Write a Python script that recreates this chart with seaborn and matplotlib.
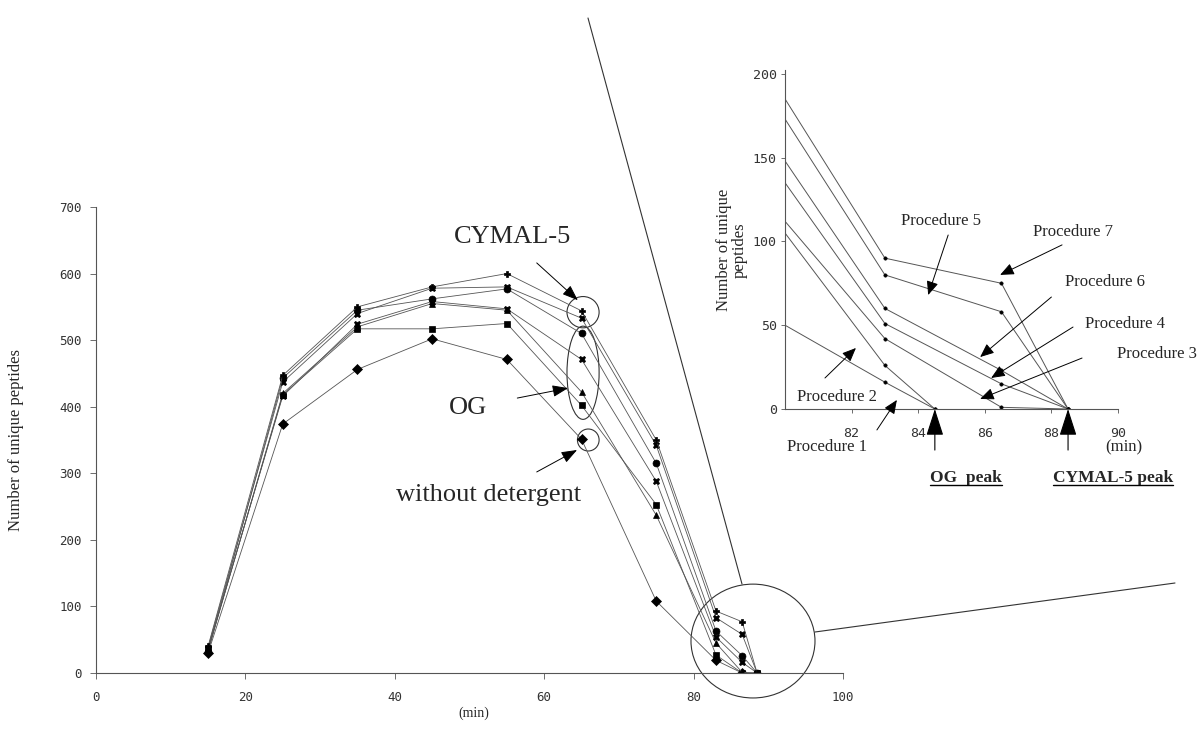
import numpy as np
import pandas as pd
import matplotlib
matplotlib.use("Agg")
import matplotlib.pyplot as plt
from matplotlib.patches import Ellipse
from matplotlib.lines import Line2D
import seaborn as sns

# fraction retention times (min), main plot
times = [15, 25, 35, 45, 55, 65, 75, 83, 86.5, 88.5]

# number of unique peptides for each procedure
proc1 = [30, 374, 456, 502, 471, 351, 108, 19, 0, np.nan]
proc2 = [35, 418, 517, 517, 525, 402, 253, 27, 0, 0]
proc3 = [33, 420, 520, 555, 545, 422, 237, 45, 1, 0]
proc4 = [36, 416, 524, 558, 547, 471, 288, 54, 16, 0]
proc5 = [38, 437, 540, 578, 580, 533, 342, 83, 58, 0]
proc6 = [32, 443, 545, 562, 577, 510, 315, 63, 26, 0]
proc7 = [40, 447, 550, 580, 600, 544, 350, 93, 77, 0]

names = ["Procedure 1", "Procedure 2", "Procedure 3", "Procedure 4",
         "Procedure 5", "Procedure 6", "Procedure 7"]
markers = ["D", "s", "^", "X", "X", "o", "P"]

# zoomed inset (80-90 min)
inset_og_times = [80, 83, 84.5]
inset_cymal_times = [80, 83, 86.5, 88.5]
inset1 = [50, 16, 0]
inset2 = [105, 26, 0]
inset3 = [112, 42, 1, 0]
inset4 = [135, 51, 15, 0]
inset5 = [173, 80, 58, 0]
inset6 = [148, 60, 23, 0]
inset7 = [185, 90, 75, 0]

main_df = pd.DataFrame({
    "time": times * 7,
    "peptides": proc1 + proc2 + proc3 + proc4 + proc5 + proc6 + proc7,
    "procedure": [n for n in names for _ in times],
})

inset_series = [inset1, inset2, inset3, inset4, inset5, inset6, inset7]
inset_times = [inset_og_times, inset_og_times] + [inset_cymal_times] * 5
inset_df = pd.DataFrame({
    "time": [t for ts in inset_times for t in ts],
    "peptides": [v for s in inset_series for v in s],
    "procedure": [n for n, s in zip(names, inset_series) for _ in s],
})

sns.set_theme(style="white")
plt.rcParams["font.family"] = ["Liberation Serif", "DejaVu Serif"]

W, H = 1199, 743
fig = plt.figure(figsize=(W / 100, H / 100), dpi=100)
ax = fig.add_axes([96 / W, 1 - 673 / H, 747 / W, 466 / H])

line_col = "#555555"
for name, mk in zip(names, markers):
    sns.lineplot(data=main_df[main_df["procedure"] == name], x="time", y="peptides",
                 ax=ax, color=line_col, lw=0.6, marker=mk, markersize=5,
                 markerfacecolor="black", markeredgecolor="black", markeredgewidth=0.5)

ax.set_xlim(0, 100)
ax.set_ylim(0, 700)
ax.set_xticks(range(0, 101, 20))
ax.set_yticks(range(0, 701, 100))
for s in ["top", "right"]:
    ax.spines[s].set_visible(False)
for s in ["left", "bottom"]:
    ax.spines[s].set_color(line_col)
    ax.spines[s].set_linewidth(0.8)
ax.tick_params(direction="out", length=4, width=0.6, color=line_col, labelsize=9,
               labelcolor="#333333", left=True, bottom=True)
ax.tick_params(axis="x", pad=9)
ax.tick_params(axis="y", pad=6)
for lab in ax.get_xticklabels() + ax.get_yticklabels():
    lab.set_fontfamily("DejaVu Sans Mono")
ax.set_xlabel("(min)", fontsize=10)
ax.xaxis.set_label_coords(0.506, -0.072)
ax.set_ylabel("Number of unique peptides", fontsize=12)
ax.yaxis.set_label_coords(-0.096, 0.5)

# callouts on main plot
ell_kw = dict(fill=False, ec="#333333", lw=0.8, clip_on=False)
ax.add_patch(Ellipse((65.2, 542), 4.3, 47, **ell_kw))
ax.add_patch(Ellipse((65.2, 451), 4.3, 140, **ell_kw))
ax.add_patch(Ellipse((65.9, 350), 2.9, 33, **ell_kw))
ax.add_patch(Ellipse((87.95, 48), 16.6, 171, **ell_kw))

arr = dict(arrowstyle="-|>,head_length=0.8,head_width=0.3", color="black", lw=0.7,
           shrinkA=0, shrinkB=0)
ax.text(55.7, 655, "CYMAL-5", fontsize=19, ha="center", va="center")
ax.annotate("", xy=(64.5, 560), xytext=(59.0, 616), arrowprops=arr)
ax.text(49.8, 398, "OG", fontsize=19, ha="center", va="center")
ax.annotate("", xy=(63.2, 428), xytext=(56.4, 413), arrowprops=arr)
ax.text(52.5, 267, "without detergent", fontsize=19, ha="center", va="center")
ax.annotate("", xy=(64.4, 335), xytext=(59.0, 302), arrowprops=arr)

# zoom connector lines
fig.add_artist(Line2D([588 / W, 742 / W], [1 - 18 / H, 1 - 584 / H],
                      transform=fig.transFigure, color="#333333", lw=0.8))
fig.add_artist(Line2D([815 / W, 1175 / W], [1 - 632 / H, 1 - 583 / H],
                      transform=fig.transFigure, color="#333333", lw=0.8))

# inset
axi = fig.add_axes([785 / W, 1 - 409 / H, 333 / W, 338.6 / H])
axi.patch.set_alpha(0)
for name in names:
    sns.lineplot(data=inset_df[inset_df["procedure"] == name], x="time", y="peptides",
                 ax=axi, color=line_col, lw=0.7, marker="o", markersize=2.5,
                 markevery=slice(1, None), markerfacecolor="black",
                 markeredgecolor="black", markeredgewidth=0.3)
axi.set_xlim(80, 90)
axi.set_ylim(0, 202)
axi.set_xticks([82, 84, 86, 88, 90])
axi.set_yticks([0, 50, 100, 150, 200])
for s in ["top", "right"]:
    axi.spines[s].set_visible(False)
for s in ["left", "bottom"]:
    axi.spines[s].set_color(line_col)
    axi.spines[s].set_linewidth(0.8)
axi.tick_params(direction="out", length=3, width=0.6, color=line_col, labelsize=9.5,
                labelcolor="#333333", left=True, bottom=True)
axi.tick_params(axis="x", pad=10)
axi.tick_params(axis="y", pad=3)
for lab in axi.get_xticklabels() + axi.get_yticklabels():
    lab.set_fontfamily("DejaVu Sans Mono")
axi.set_xlabel("")
axi.set_ylabel("Number of unique\npeptides", fontsize=12, linespacing=1.0)
axi.yaxis.set_label_coords(-0.111, 0.47)

arr_i = dict(arrowstyle="-|>,head_length=0.7,head_width=0.3", color="black", lw=0.7,
             shrinkA=0, shrinkB=0)
labels_inset = [
    ("Procedure 5", (84.68, 112.2), (84.9, 103.8), (84.3, 68)),
    ("Procedure 7", (88.65, 105.6), (88.32, 97.9), (86.46, 80)),
    ("Procedure 6", (89.6, 75.8), (88.0, 66.8), (85.86, 31)),
    ("Procedure 4", (90.2, 50.7), (88.65, 48.9), (86.19, 18.5)),
    ("Procedure 3", (91.17, 32.8), (88.92, 30.4), (85.86, 6)),
    ("Procedure 2", (81.56, 7.2), (81.2, 18.5), (82.13, 36.4)),
    ("Procedure 1", (81.26, -22.7), (82.76, -12.5), (83.36, 5.4)),
]
for txt, pos, start, end in labels_inset:
    axi.text(pos[0], pos[1], txt, fontsize=12, ha="center", va="center", clip_on=False)
    axi.annotate("", xy=end, xytext=start, arrowprops=arr_i, annotation_clip=False)

axi.text(90.18, -22.7, "(min)", fontsize=12, ha="center", va="center")

big = dict(arrowstyle="-|>,head_length=1.4,head_width=0.45", color="black", lw=0.8,
           shrinkA=0, shrinkB=0)
axi.annotate("", xy=(84.5, 0), xytext=(84.5, -24.5), arrowprops=big, annotation_clip=False)
axi.annotate("", xy=(88.5, 0), xytext=(88.5, -24.5), arrowprops=big, annotation_clip=False)
peak_og = axi.text(85.44, -41.2, "OG  peak", fontsize=12.5, fontweight="bold",
                   ha="center", va="center")
peak_cy = axi.text(89.85, -41.2, "CYMAL-5 peak", fontsize=12.5, fontweight="bold",
                   ha="center", va="center")

# underline the peak labels
fig.canvas.draw()
renderer = fig.canvas.get_renderer()
for t in [peak_og, peak_cy]:
    bb = t.get_window_extent(renderer)
    y = (bb.y0 + 1) / H
    fig.add_artist(Line2D([bb.x0 / W, bb.x1 / W], [y, y], transform=fig.transFigure,
                          color="black", lw=1.0))

fig.savefig("out.png", dpi=100)
